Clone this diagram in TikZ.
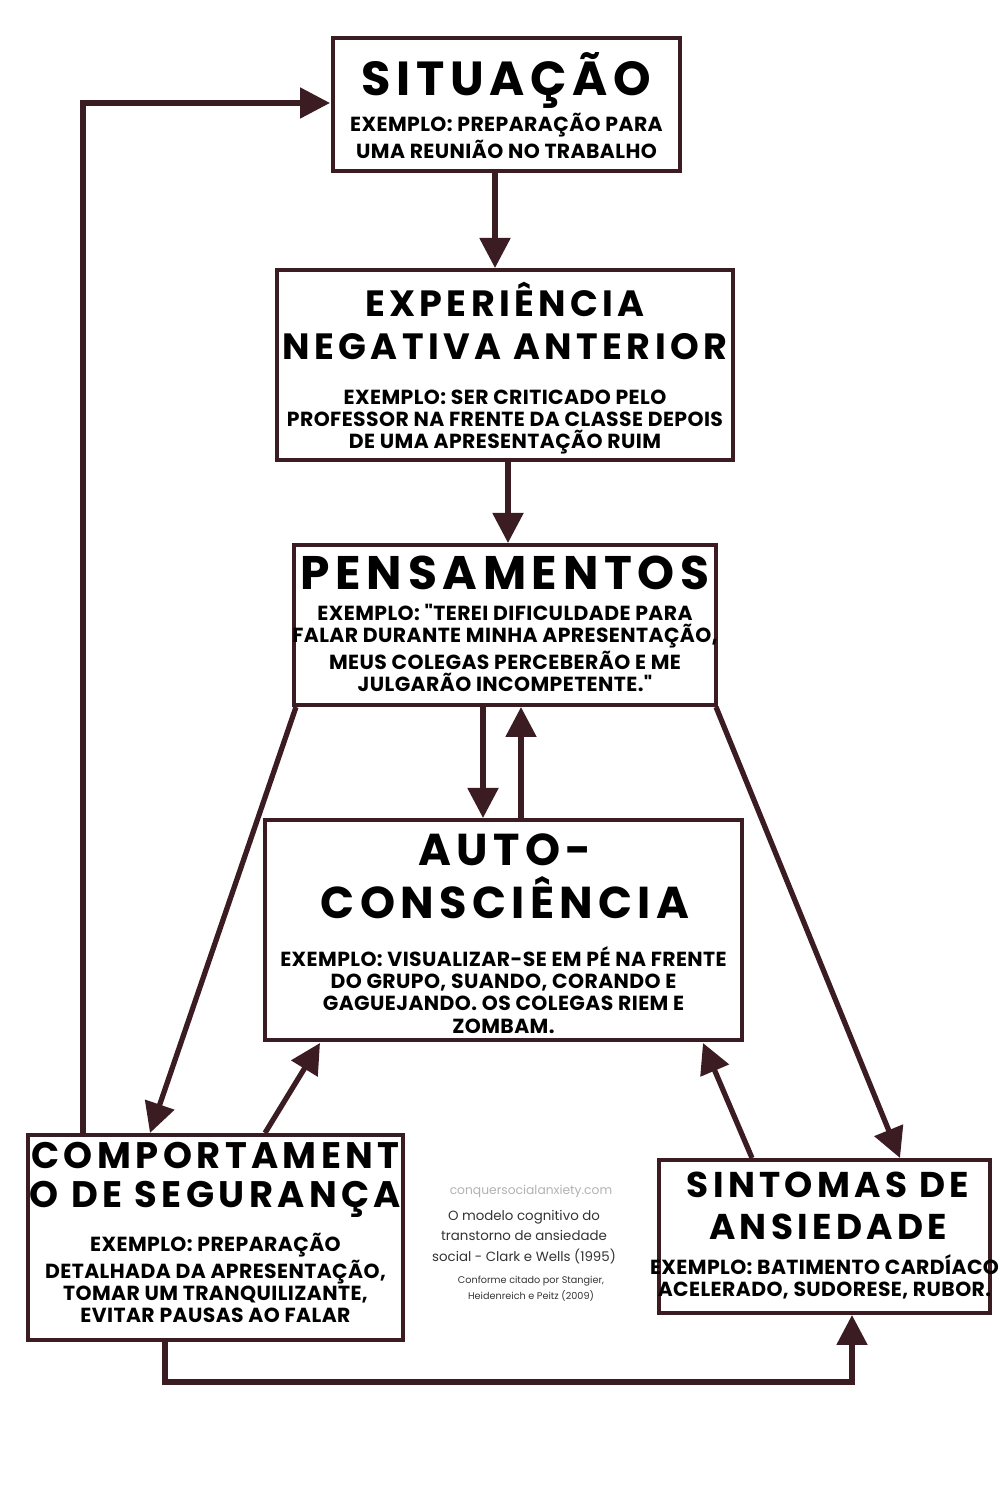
\documentclass[tikz,border=0pt]{standalone}
\usepackage{fontspec}
\setmainfont{Poppins}
\newfontfamily\headfont{Poppins}[LetterSpace=12]
\newfontfamily\bodyfont{Poppins}[LetterSpace=2]
\usetikzlibrary{arrows.meta,positioning,calc}
\definecolor{wine}{HTML}{3A1C22}
\tikzstyle{box} = [rectangle, draw=wine, line width=0.9pt]
\tikzstyle{title} = [align=center, inner sep=0pt, font=\headfont\bfseries]
\tikzstyle{body} = [align=center, inner sep=0pt, font=\bodyfont\bfseries\fontsize{5.8}{6.3}\selectfont]
\tikzstyle{flow} = [draw=wine, line width=1.5pt, -{Triangle[width=3mm,length=3mm]}]
\begin{document}
\begin{tikzpicture}
    \useasboundingbox (0,0) rectangle (10,15);
    \node[box, minimum width=3.47cm, minimum height=1.33cm] (sit) at (5.065,13.955) {};
    \node[title, font=\headfont\bfseries\fontsize{13.6}{16}\selectfont] (sitT) at (5.065,14.2) {SITUAÇÃO};
    \node[body] (sitB) at (5.065,13.64) {EXEMPLO: PREPARAÇÃO PARA\\UMA REUNIÃO NO TRABALHO};

    \node[box, minimum width=4.56cm, minimum height=1.90cm] (exp) at (5.05,11.35) {};
    \node[title, font=\headfont\bfseries\fontsize{10.4}{12.2}\selectfont] (expT) at (5.05,11.79) {EXPERIÊNCIA\\NEGATIVA ANTERIOR};
    \node[body] (expB) at (5.05,10.78) {EXEMPLO: SER CRITICADO PELO\\PROFESSOR NA FRENTE DA CLASSE DEPOIS\\DE UMA APRESENTAÇÃO RUIM};

    \node[box, minimum width=4.22cm, minimum height=1.60cm] (pen) at (5.05,8.75) {};
    \node[title, font=\headfont\bfseries\fontsize{13.4}{16}\selectfont] (penT) at (5.05,9.27) {PENSAMENTOS};
    \node[body] (penB) at (5.05,8.52) {EXEMPLO: "TEREI DIFICULDADE PARA\\FALAR DURANTE MINHA APRESENTAÇÃO,\\MEUS COLEGAS PERCEBERÃO E ME\\JULGARÃO INCOMPETENTE."};

    \node[box, minimum width=4.77cm, minimum height=2.20cm] (aut) at (5.035,5.70) {};
    \node[title, font=\headfont\bfseries\fontsize{12.7}{15}\selectfont] (autT) at (5.05,6.24) {AUTO-\\CONSCIÊNCIA};
    \node[body] (autB) at (5.035,5.10) {EXEMPLO: VISUALIZAR-SE EM PÉ NA FRENTE\\DO GRUPO, SUANDO, CORANDO E\\GAGUEJANDO. OS COLEGAS RIEM E\\ZOMBAM.};

    \node[box, minimum width=3.75cm, minimum height=2.05cm] (com) at (2.155,2.625) {};
    \node[title, font=\headfont\bfseries\fontsize{10.5}{11}\selectfont] (comT) at (2.155,3.20) {COMPORTAMENT\\O DE SEGURANÇA};
    \node[body] (comB) at (2.155,2.22) {EXEMPLO: PREPARAÇÃO\\DETALHADA DA APRESENTAÇÃO,\\TOMAR UM TRANQUILIZANTE,\\EVITAR PAUSAS AO FALAR};

    \node[box, minimum width=3.31cm, minimum height=1.53cm] (sin) at (8.245,2.635) {};
    \node[title, font=\headfont\bfseries\fontsize{10.2}{12}\selectfont] (sinT) at (8.28,2.94) {SINTOMAS DE\\ANSIEDADE};
    \node[body] (sinB) at (8.245,2.23) {EXEMPLO: BATIMENTO CARDÍACO\\ACELERADO, SUDORESE, RUBOR.};

    % credits
    \node[inner sep=0pt, text=black!30, font=\fontsize{3.5}{5}\selectfont] (url) at (5.31,3.09) {conquersocialanxiety.com};
    \node[inner sep=0pt, align=center, text=black!80, font=\fontsize{3.8}{5.9}\selectfont] (cap) at (5.24,2.63) {O modelo cognitivo do\\transtorno de ansiedade\\social - Clark e Wells (1995)};
    \node[inner sep=0pt, align=center, text=black!80, font=\fontsize{2.75}{4.5}\selectfont] (ref) at (5.31,2.11) {Conforme citado por Stangier,\\Heidenreich e Peitz (2009)};

    % arrows
    \draw[flow] (4.95,13.29) -- (4.95,12.32);
    \draw[flow] (5.08,10.40) -- (5.08,9.57);
    \draw[flow] (4.83,7.93) -- (4.83,6.82);
    \draw[flow] (5.21,6.82) -- (5.21,7.93);
    \draw[flow] (2.96,7.93) -- (1.50,3.67);
    \draw[flow] (7.16,7.93) -- (9.00,3.42);
    \draw[flow] (2.65,3.67) -- (3.20,4.57);
    \draw[flow] (7.52,3.42) -- (7.03,4.57);
    \draw[flow] (0.83,3.67) -- (0.83,13.97) -- (3.30,13.97);
    \draw[flow] (1.65,1.60) -- (1.65,1.18) -- (8.52,1.18) -- (8.52,1.85);
\end{tikzpicture}
\end{document}
